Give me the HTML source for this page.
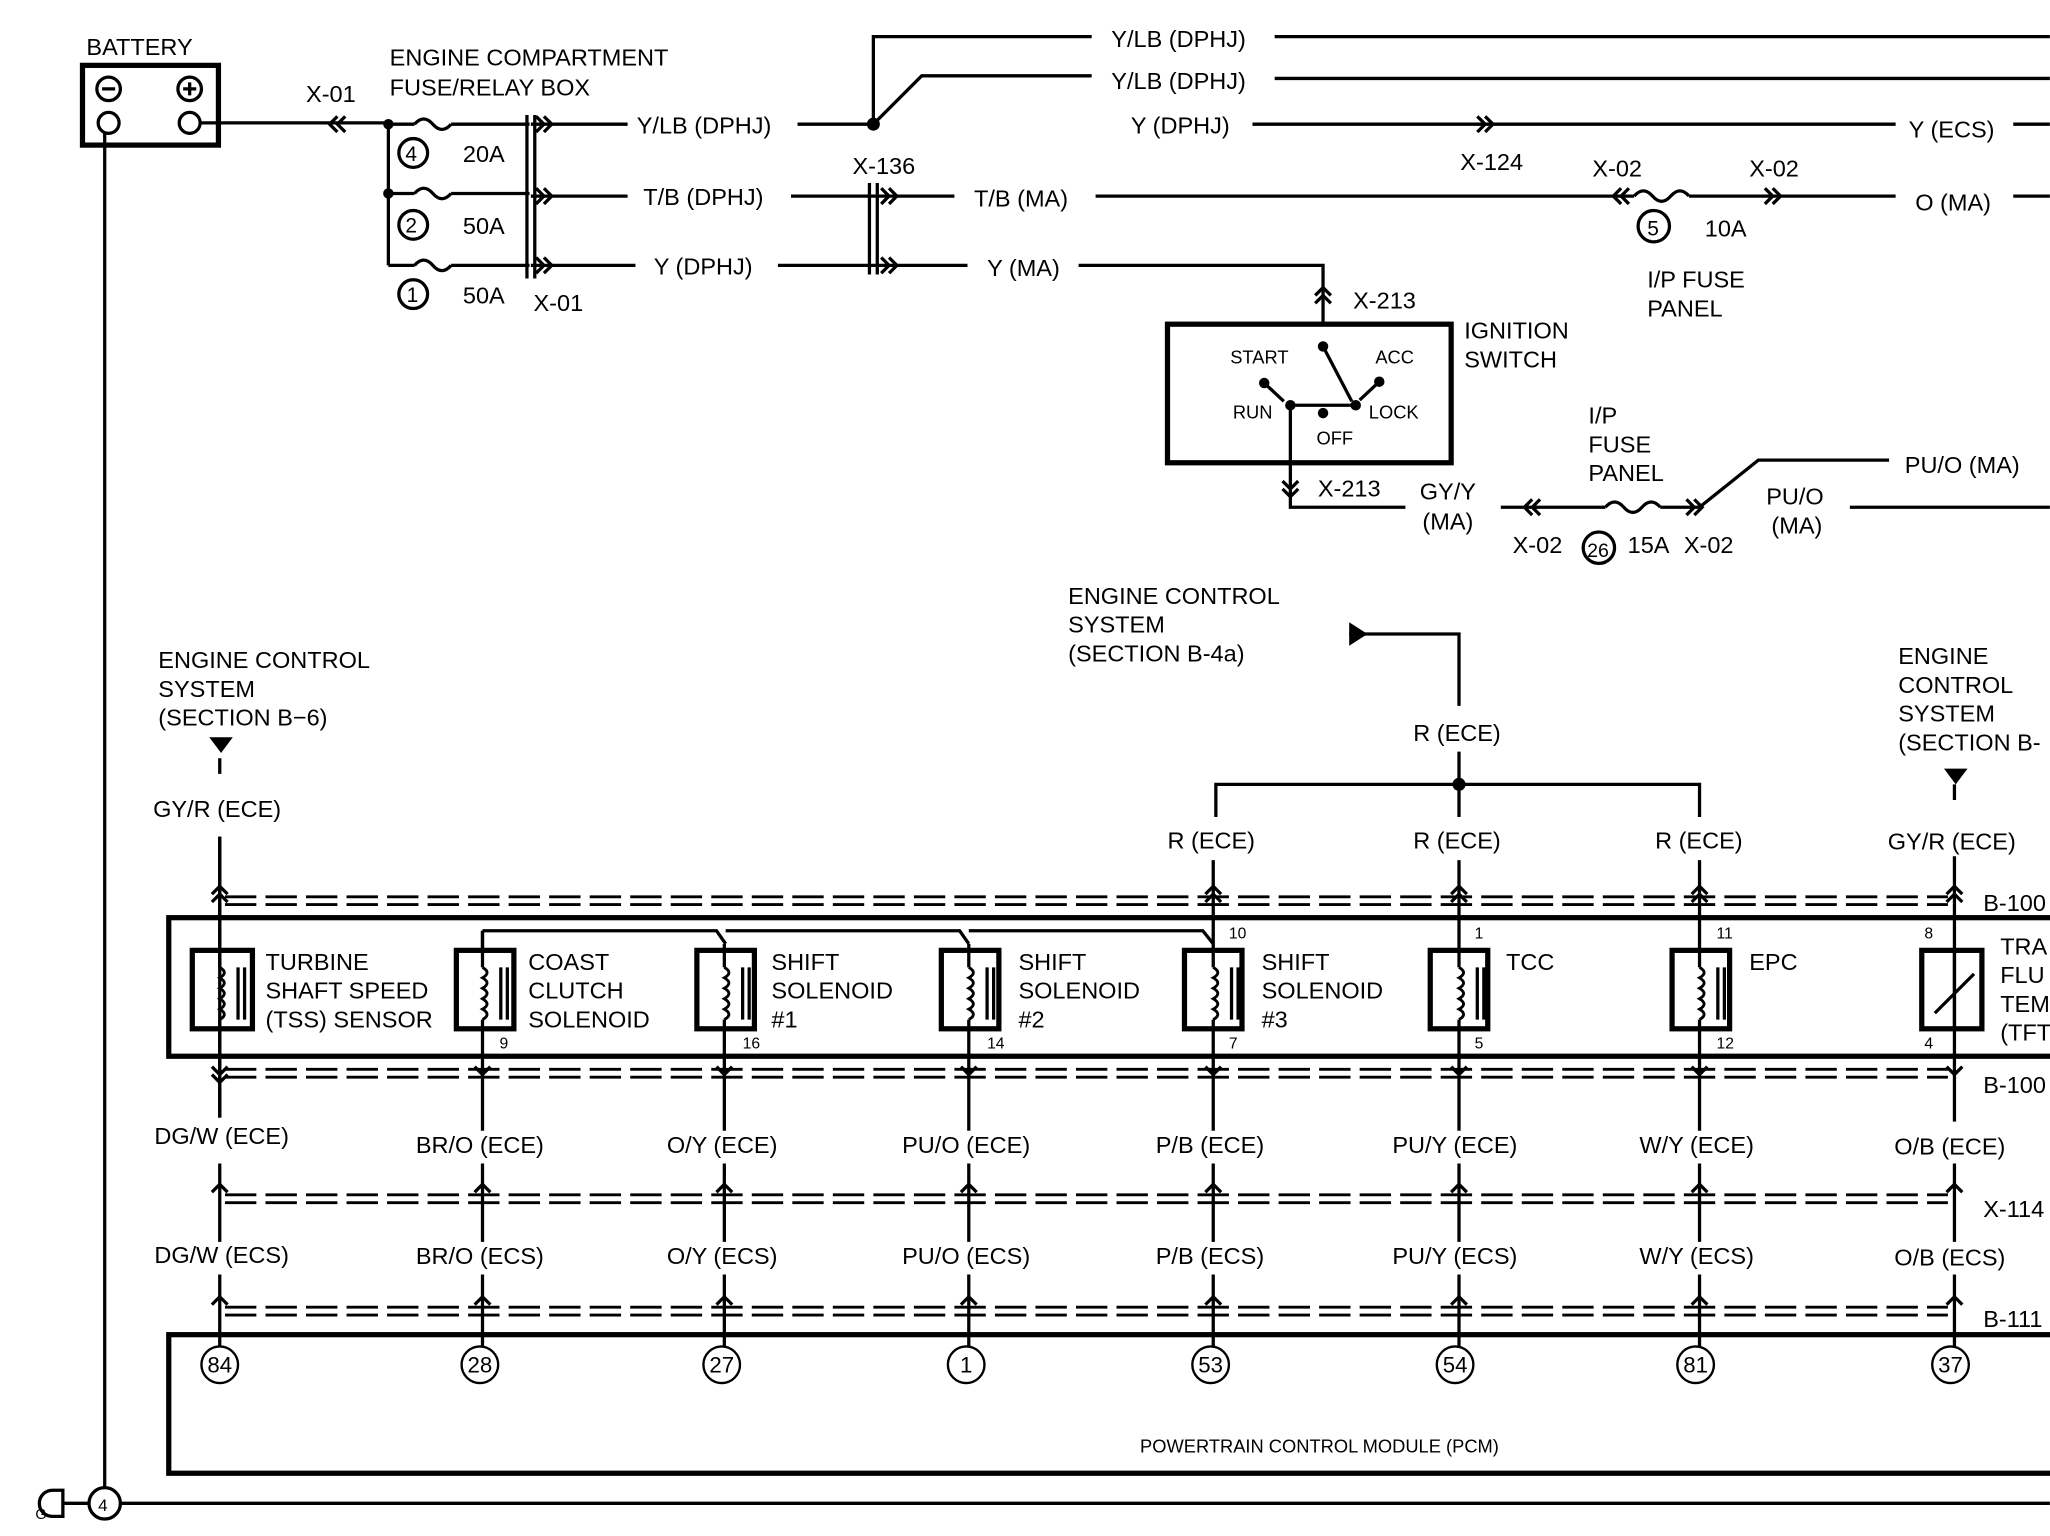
<!DOCTYPE html>
<html><head><meta charset="utf-8"><style>html,body{margin:0;padding:0;background:#fff}svg{display:block}text{font-family:"Liberation Sans",Arial,sans-serif;fill:#000}</style></head><body>
<svg width="2050" height="1536" viewBox="0 0 1568 1175" xmlns="http://www.w3.org/2000/svg">
<defs><path id="coil" d="M0 740q7 4 0 8q7 4 0 8q7 4 0 8q7 4 0 8q7 4 0 8" fill="none" stroke="#000" stroke-width="2.2"/></defs>
<g fill="none" stroke="#000" stroke-width="2.5">
<rect x="63" y="50" width="104" height="61" stroke-width="4"/>
<circle cx="83" cy="68" r="9"/><circle cx="145" cy="68" r="9"/><circle cx="83" cy="94" r="8"/><circle cx="145" cy="94" r="8"/>
<path d="M78 68h10M140 68h10M145 63v10"/>
<path d="M80 102V1138M153 94H297M92 1150H1568"/>
<circle cx="80" cy="1150" r="12"/>
<path d="M68 1150H48M48 1140v20h-8a10 10 0 0 1 0-20z"/>
<path d="M258 89l-6 6 6 6M264 89l-6 6 6 6"/>
<path d="M297 95V203M297 95h20M297 148h20M297 203h20"/>
<path d="M317 95q7-8 14 0t14 0M317 148q7-8 14 0t14 0M317 203q7-8 14 0t14 0"/>
<path d="M345 95h60M345 148h60M345 203h60M403 88v125M409 88v125"/>
<path d="M406 95h74M406 150h74M406 203h80"/>
<path d="M410 89l6 6-6 6M416 89l6 6-6 6M410 144l6 6-6 6M416 144l6 6-6 6M410 197l6 6-6 6M416 197l6 6-6 6"/>
<circle cx="316" cy="117" r="11"/><circle cx="316" cy="172" r="11"/><circle cx="316" cy="225" r="11"/>
<path d="M610 95H668M958 95H1450M1540 95H1568M668 95V28H835M975 28H1568M668 95L705 58H835M975 60H1568"/>
<path d="M1130 89l6 6-6 6M1136 89l6 6-6 6"/>
<path d="M605 150H730M838 150H1250M1292 150H1450M1540 150H1568M665 140v70M671 140v70"/>
<path d="M674 144l6 6-6 6M680 144l6 6-6 6M674 197l6 6-6 6M680 197l6 6-6 6"/>
<path d="M1240 144l-6 6 6 6M1246 144l-6 6 6 6M1350 144l6 6-6 6M1356 144l6 6-6 6"/>
<path d="M1250 150q7-8 14 0t14 0t14 0"/>
<path d="M595 203H740M825 203H1012V247"/>
<path d="M1006 226l6-6 6 6M1006 232l6-6 6 6"/>
<circle cx="1265" cy="173" r="12"/>
<rect x="893" y="248" width="217" height="106" stroke-width="4"/>
<path d="M1012 265l22 42M987 310v78H1075M981 368l6 6 6-6M981 374l6 6 6-6"/>
<path d="M987 310h50M967 293l15 14M1055 292l-15 14"/>
<path d="M1148 388h80M1172 382l-6 6 6 6M1178 382l-6 6 6 6M1228 388q7-8 14 0t14 0t14 0M1270 388h30M1290 382l6 6-6 6M1296 382l6 6-6 6M1300 388L1345 352H1445M1415 388H1568"/>
<circle cx="1223" cy="419" r="12"/>
<path d="M1032 485h84v55M1116 575v50M930 625V600H1300V625"/>
<path d="M168 580v12M168 640V855"/>
<path d="M1495 600v12M1495 655V858"/>
<g stroke-dasharray="24,7" stroke-width="2.2">
<path d="M172 686H1490M172 692H1490M172 818H1490M172 824H1490M172 914H1490M172 920H1490M172 1000H1490M172 1006H1490"/>
</g>
<rect x="129" y="702" width="1445" height="106" stroke-width="4"/>
<rect x="129" y="1021" width="1445" height="106" stroke-width="4"/>
<path d="M369 712H548l7 10M555 712H734l7 10M741 712H920l8 10M369 712V727"/>
</g>
<g font-size="18">
<text x="66" y="42">BATTERY</text>
<text x="234" y="78">X-01</text>
<text x="298" y="50">ENGINE COMPARTMENT</text><text x="298" y="73">FUSE/RELAY BOX</text>
<text x="354" y="124">20A</text><text x="354" y="179">50A</text><text x="354" y="232">50A</text>
<text x="310" y="123" font-size="16">4</text><text x="310" y="178" font-size="16">2</text><text x="311" y="231" font-size="16">1</text>
<text x="408" y="238">X-01</text>
<text x="487" y="102">Y/LB (DPHJ)</text><text x="865" y="102">Y (DPHJ)</text><text x="1460" y="105">Y (ECS)</text>
<text x="850" y="36">Y/LB (DPHJ)</text><text x="850" y="68">Y/LB (DPHJ)</text>
<text x="1117" y="130">X-124</text><text x="652" y="133">X-136</text>
<text x="492" y="157">T/B (DPHJ)</text><text x="745" y="158">T/B (MA)</text>
<text x="1218" y="135">X-02</text><text x="1338" y="135">X-02</text><text x="1465" y="161">O (MA)</text>
<text x="1260" y="180" font-size="16">5</text><text x="1304" y="181">10A</text>
<text x="1260" y="220">I/P FUSE</text><text x="1260" y="242">PANEL</text>
<text x="500" y="210">Y (DPHJ)</text><text x="755" y="211">Y (MA)</text>
<text x="1035" y="236">X-213</text>
<text x="1120" y="259">IGNITION</text><text x="1120" y="281">SWITCH</text>
<text x="941" y="278" font-size="14">START</text><text x="1052" y="278" font-size="14">ACC</text>
<text x="943" y="320" font-size="14">RUN</text><text x="1047" y="320" font-size="14">LOCK</text><text x="1007" y="340" font-size="14">OFF</text>
<text x="1008" y="380">X-213</text>
<text x="1086" y="382">GY/Y</text><text x="1088" y="405">(MA)</text>
<text x="1215" y="324">I/P</text><text x="1215" y="346">FUSE</text><text x="1215" y="368">PANEL</text>
<text x="1157" y="423">X-02</text><text x="1245" y="423">15A</text><text x="1288" y="423">X-02</text>
<text x="1214" y="426" font-size="15">26</text>
<text x="1351" y="386">PU/O</text><text x="1355" y="408">(MA)</text><text x="1457" y="362">PU/O (MA)</text>
<text x="817" y="462">ENGINE CONTROL</text><text x="817" y="484">SYSTEM</text><text x="817" y="506">(SECTION B-4a)</text>
<text x="121" y="511">ENGINE CONTROL</text><text x="121" y="533">SYSTEM</text><text x="121" y="555">(SECTION B−6)</text>
<text x="1452" y="508">ENGINE</text><text x="1452" y="530">CONTROL</text><text x="1452" y="552">SYSTEM</text><text x="1452" y="574">(SECTION B-</text>
<text x="1081" y="567">R (ECE)</text>
<text x="117" y="625">GY/R  (ECE)</text>
<text x="893" y="649">R (ECE)</text><text x="1081" y="649">R (ECE)</text><text x="1266" y="649">R (ECE)</text><text x="1444" y="650">GY/R (ECE)</text>
<text x="1517" y="697">B-100</text><text x="1517" y="836">B-100</text><text x="1517" y="931">X-114</text><text x="1517" y="1015">B-111</text>
<text x="203" y="742">TURBINE</text><text x="203" y="764">SHAFT SPEED</text><text x="203" y="786">(TSS) SENSOR</text>
<text x="404" y="742">COAST</text><text x="404" y="764">CLUTCH</text><text x="404" y="786">SOLENOID</text>
<text x="590" y="742">SHIFT</text><text x="590" y="764">SOLENOID</text><text x="590" y="786">#1</text>
<text x="779" y="742">SHIFT</text><text x="779" y="764">SOLENOID</text><text x="779" y="786">#2</text>
<text x="965" y="742">SHIFT</text><text x="965" y="764">SOLENOID</text><text x="965" y="786">#3</text>
<text x="1152" y="742">TCC</text><text x="1338" y="742">EPC</text>
<text x="1530" y="730">TRA</text><text x="1530" y="752">FLU</text><text x="1530" y="774">TEM</text><text x="1530" y="796">(TFT</text>
<g font-size="12"><text x="382" y="802">9</text><text x="568" y="802">16</text><text x="755" y="802">14</text><text x="940" y="802">7</text><text x="940" y="718">10</text><text x="1128" y="802">5</text><text x="1128" y="718">1</text><text x="1313" y="802">12</text><text x="1313" y="718">11</text><text x="1472" y="802">4</text><text x="1472" y="718">8</text></g>
<text x="118" y="875">DG/W  (ECE)</text><text x="318" y="882">BR/O (ECE)</text><text x="510" y="882">O/Y (ECE)</text><text x="690" y="882">PU/O (ECE)</text><text x="884" y="882">P/B (ECE)</text><text x="1065" y="882">PU/Y (ECE)</text><text x="1254" y="882">W/Y (ECE)</text><text x="1449" y="883">O/B (ECE)</text>
<text x="118" y="966">DG/W (ECS)</text><text x="318" y="967">BR/O (ECS)</text><text x="510" y="967">O/Y (ECS)</text><text x="690" y="967">PU/O (ECS)</text><text x="884" y="967">P/B (ECS)</text><text x="1065" y="967">PU/Y (ECS)</text><text x="1254" y="967">W/Y (ECS)</text><text x="1449" y="968">O/B (ECS)</text>
<text x="872" y="1111" font-size="14">POWERTRAIN CONTROL MODULE (PCM)</text>
<text x="75" y="1156" font-size="13">4</text><text x="27" y="1162" font-size="11">G</text>
</g>
<path d="M1032 476v18l14-9z M160 564h18l-9 12z M1487 588h18l-9 12z" fill="#000"/>
<circle cx="668" cy="95" r="5" fill="#000"/><circle cx="297" cy="95" r="4" fill="#000"/><circle cx="297" cy="148" r="4" fill="#000"/><circle cx="1116" cy="600" r="5" fill="#000"/>
<g fill="#000"><circle cx="1012" cy="265" r="4"/><circle cx="967" cy="293" r="4"/><circle cx="1055" cy="292" r="4"/><circle cx="987" cy="310" r="4"/><circle cx="1012" cy="316" r="4"/><circle cx="1037" cy="310" r="4"/></g>
<g fill="none" stroke="#000" stroke-width="2.5">
<path d="M369 712V740M369 780V865M369 890V950M369 975V1030M554 722V740M554 780V865M554 890V950M554 975V1030M741 722V740M741 780V865M741 890V950M741 975V1030M928 658V740M928 780V865M928 890V950M928 975V1030M1116 658V740M1116 780V865M1116 890V950M1116 975V1030M1300 658V740M1300 780V865M1300 890V950M1300 975V1030M168 890V950M168 975V1030M1495 890V950M1495 975V1030M168 780V855M168 640V740"/>
<path d="M162 684l6-6 6 6M162 690l6-6 6 6M162 816l6 6 6-6M162 822l6 6 6-6M162 912l6-6 6 6M162 998l6-6 6 6
M922 684l6-6 6 6M922 690l6-6 6 6M1110 684l6-6 6 6M1110 690l6-6 6 6M1294 684l6-6 6 6M1294 690l6-6 6 6M1489 684l6-6 6 6M1489 690l6-6 6 6
M363 816l6 6 6-6M548 816l6 6 6-6M735 816l6 6 6-6M922 816l6 6 6-6M1110 816l6 6 6-6M1294 816l6 6 6-6M1489 816l6 6 6-6
M363 912l6-6 6 6M548 912l6-6 6 6M735 912l6-6 6 6M922 912l6-6 6 6M1110 912l6-6 6 6M1294 912l6-6 6 6M1489 912l6-6 6 6
M363 998l6-6 6 6M548 998l6-6 6 6M735 998l6-6 6 6M922 998l6-6 6 6M1110 998l6-6 6 6M1294 998l6-6 6 6M1489 998l6-6 6 6"/>
<g stroke-width="4">
<rect x="147" y="727" width="46" height="60"/><rect x="349" y="727" width="44" height="60"/><rect x="533" y="727" width="44" height="60"/><rect x="720" y="727" width="44" height="60"/><rect x="906" y="727" width="44" height="60"/><rect x="1094" y="727" width="44" height="60"/><rect x="1279" y="727" width="44" height="60"/><rect x="1470" y="727" width="46" height="60"/>
</g>
<path d="M182 740v40M187 740v40M383 740v40M388 740v40M568 740v40M573 740v40M755 740v40M760 740v40M942 740v40M947 740v40M1130 740v40M1135 740v40M1314 740v40M1319 740v40M1480 775l30-30M1495 727V787"/>
<g stroke-width="1.8"><circle cx="168" cy="1044" r="14"/><circle cx="367" cy="1044" r="14"/><circle cx="552" cy="1044" r="14"/><circle cx="739" cy="1044" r="14"/><circle cx="926" cy="1044" r="14"/><circle cx="1113" cy="1044" r="14"/><circle cx="1297" cy="1044" r="14"/><circle cx="1492" cy="1044" r="14"/></g>
</g>
<use href="#coil" x="168"/><use href="#coil" x="369"/><use href="#coil" x="554"/><use href="#coil" x="741"/><use href="#coil" x="928"/><use href="#coil" x="1116"/><use href="#coil" x="1300"/>
<g font-size="17" text-anchor="middle"><text x="168" y="1050">84</text><text x="367" y="1050">28</text><text x="552" y="1050">27</text><text x="739" y="1050">1</text><text x="926" y="1050">53</text><text x="1113" y="1050">54</text><text x="1297" y="1050">81</text><text x="1492" y="1050">37</text></g>
</svg>
</body></html>
